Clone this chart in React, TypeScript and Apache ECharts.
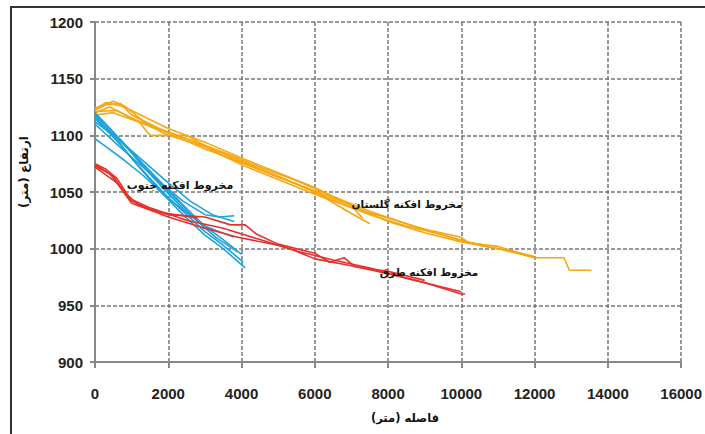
import React, { useEffect, useRef } from "react";
import * as echarts from "echarts";

const xTicks = [0, 2000, 4000, 6000, 8000, 10000, 12000, 14000, 16000];
const yTicks = [900, 950, 1000, 1050, 1100, 1150, 1200];

// مخروط افکنه گلستان (orange)
const golestan1 = [[0,1122],[300,1127],[700,1128],[1000,1118],[2000,1102],[3000,1088],[4000,1076],[5000,1063],[6000,1051],[7000,1038],[8000,1024],[9000,1014],[10000,1006],[11000,1000],[12000,992],[12800,992],[12950,981],[13550,981]];
const golestan2 = [[0,1124],[500,1130],[800,1126],[1500,1108],[2000,1100],[3000,1090],[4000,1074],[5000,1061],[6000,1048],[7000,1036],[8000,1027],[9000,1017],[10000,1010],[10200,1005],[11000,1002],[11800,994],[12000,992]];
const golestan3 = [[0,1120],[400,1125],[1200,1112],[1500,1100],[2500,1100],[3500,1082],[4500,1070],[5500,1057],[6500,1043],[7500,1030],[8500,1020],[9500,1012],[10500,1003],[11500,997],[12000,993]];
const golestan4 = [[0,1121],[600,1122],[1000,1115],[2000,1103],[3000,1091],[4000,1077],[5000,1064],[6000,1050],[7000,1031],[7500,1022]];
const golestan5 = [[0,1123],[300,1129],[800,1125],[2000,1106],[3000,1094],[4000,1080],[5000,1067],[6000,1054],[7000,1038],[7300,1027]];
const golestan6 = [[0,1118],[500,1120],[1500,1108],[2500,1097],[3500,1085],[4500,1072],[5500,1060],[6500,1046],[7500,1033],[8500,1022],[9500,1012],[10000,1007],[10800,1002]];

// مخروط افکنه جنوب (blue)
const jonoob1 = [[0,1120],[500,1103],[1000,1085],[1500,1068],[2000,1050],[2500,1035],[3000,1020],[3500,1008],[4000,995]];
const jonoob2 = [[0,1118],[500,1100],[1000,1080],[1500,1062],[2000,1045],[2500,1030],[3000,1015],[3500,1003],[4050,988]];
const jonoob3 = [[0,1115],[600,1095],[1200,1072],[1800,1050],[2400,1030],[3000,1012],[3500,1000],[4100,983]];
const jonoob4 = [[0,1097],[300,1090],[800,1078],[1300,1065],[1900,1047],[2500,1032],[3000,1020],[3300,1016],[3800,1010]];
const jonoob5 = [[0,1112],[700,1095],[1400,1075],[2000,1058],[2600,1042],[3200,1030],[3800,1024]];
const jonoob6 = [[0,1110],[600,1092],[1200,1075],[1800,1058],[2400,1042],[3000,1030],[3400,1028],[3800,1029]];
const jonoob7 = [[0,1119],[700,1096],[1300,1075],[2000,1052],[2600,1032],[3000,1018],[3300,1016]];
const jonoob8 = [[0,1116],[400,1104],[900,1088],[1500,1066],[2100,1045],[2700,1027],[3300,1010],[3900,997]];

// مخروط افکنه طرق (red)
const toroq1 = [[0,1075],[300,1070],[600,1062],[1000,1042],[1500,1035],[2000,1030],[3000,1028],[3700,1021],[4100,1021],[4400,1013],[5000,1004],[6000,996],[6400,988],[6800,992],[7100,984],[8000,980],[9000,972]];
const toroq2 = [[0,1073],[400,1066],[800,1050],[1200,1038],[2000,1028],[3000,1018],[3900,1010],[5000,1003],[5400,999],[6000,991],[7000,985],[8000,978],[9000,970],[10000,960],[10100,960]];
const toroq3 = [[0,1074],[500,1064],[900,1045],[1500,1036],[2500,1025],[3500,1018],[4500,1008],[5500,998],[6500,990],[7500,983],[8500,974],[9500,966],[10000,962]];
const toroq4 = [[0,1072],[600,1058],[1000,1040],[1600,1033],[2000,1031],[2800,1027]];

const golestanLines = [golestan1, golestan2, golestan3, golestan4, golestan5, golestan6];
const jonoobLines = [jonoob1, jonoob2, jonoob3, jonoob4, jonoob5, jonoob6, jonoob7, jonoob8];
const toroqLines = [toroq1, toroq2, toroq3, toroq4];

const ORANGE = "#F6A712";
const BLUE = "#1FA3DC";
const RED = "#E8302A";

export default function App() {
  const ref = useRef<HTMLDivElement>(null);
  useEffect(() => {
    if (!ref.current) return;
    const chart = echarts.init(ref.current, null, { renderer: "svg" });
    const mk = (lines: number[][][], color: string) =>
      lines.map((d) => ({
        type: "line",
        data: d,
        showSymbol: false,
        symbol: "none",
        lineStyle: { color, width: 1.6 },
        z: 3,
      }));
    const base = { fill: "#111", fontWeight: "bold", fontFamily: "DejaVu Sans", align: "center", verticalAlign: "middle" };
    chart.setOption({
      animation: false,
      backgroundColor: "#fff",
      grid: { left: 95, right: 19, top: 22, bottom: 72 },
      xAxis: {
        type: "value",
        min: xTicks[0],
        max: xTicks[xTicks.length - 1],
        interval: xTicks[1] - xTicks[0],
        axisLine: { lineStyle: { color: "#888", width: 2 } },
        axisTick: { show: true, length: 6, lineStyle: { color: "#888", width: 2 } },
        axisLabel: { color: "#222", fontSize: 15, fontWeight: "bold", fontFamily: "Liberation Sans", margin: 24, formatter: (v: number) => String(v) },
        splitLine: { lineStyle: { color: "#777", type: [4, 2], width: 1.5 } },
      },
      yAxis: {
        type: "value",
        min: yTicks[0],
        max: yTicks[yTicks.length - 1],
        interval: yTicks[1] - yTicks[0],
        axisLine: { show: true, lineStyle: { color: "#888", width: 2 } },
        axisTick: { show: true, length: 5, lineStyle: { color: "#888", width: 2 } },
        axisLabel: { color: "#222", fontSize: 15, fontWeight: "bold", fontFamily: "Liberation Sans", margin: 12, formatter: (v: number) => String(v) },
        splitLine: { lineStyle: { color: "#777", type: [4, 2], width: 1.5 } },
      },
      graphic: [
        { type: "rect", shape: { x: 11, y: 7, width: 720, height: 460 }, style: { fill: "none", stroke: "#333", lineWidth: 2 }, z: 0, silent: true },
        { type: "text", x: 24, y: 172, rotation: Math.PI / 2, style: { text: "ارتفاع (متر)", ...base, fontSize: 12 } },
        { type: "text", x: 405, y: 418, style: { text: "فاصله (متر)", ...base, fontSize: 11.5 } },
        { type: "text", x: 180, y: 185, style: { text: "مخروط افکنه جنوب", ...base, fontSize: 11 }, z: 10 },
        { type: "text", x: 407, y: 204, style: { text: "مخروط افکنه گلستان", ...base, fontSize: 10.5 }, z: 10 },
        { type: "text", x: 429, y: 272, style: { text: "مخروط افکنه طرق", ...base, fontSize: 10.5 }, z: 10 },
      ],
      series: [...mk(golestanLines, ORANGE), ...mk(jonoobLines, BLUE), ...mk(toroqLines, RED)],
    });
    return () => chart.dispose();
  }, []);
  return <div ref={ref} style={{ position: "fixed", left: 0, top: 0, width: 705, height: 434 }} />;
}
